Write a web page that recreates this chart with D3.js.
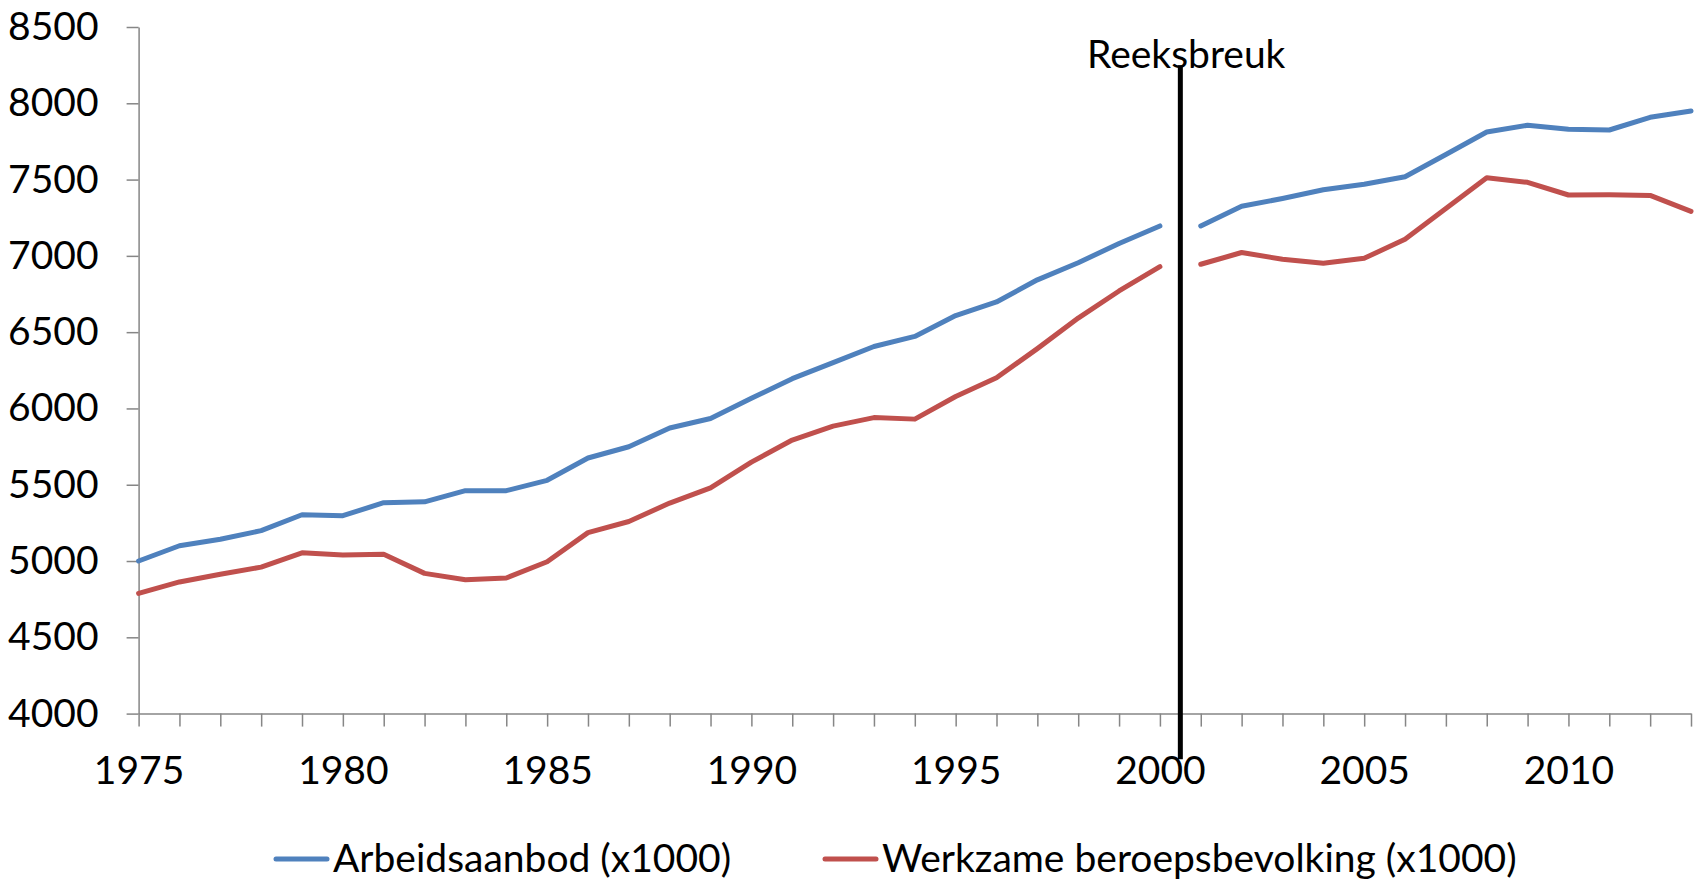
<!DOCTYPE html>
<html>
<head>
<meta charset="utf-8">
<script src="https://cdn.jsdelivr.net/npm/d3@7"></script>
<style>
  body { margin: 0; background: #fff; }
  svg text { font-family: Lato, "Open Sans", sans-serif; fill: #000; }
  .axis path, .axis line { stroke: #868686; stroke-width: 1.5; }
</style>
</head>
<body>
<div id="chart"></div>
<script>
const years = d3.range(1975, 2014);
const yTicks = [4000, 4500, 5000, 5500, 6000, 6500, 7000, 7500, 8000, 8500];
const xTickLabels = [1975, 1980, 1985, 1990, 1995, 2000, 2005, 2010];

const arbeidsaanbod = [5000, 5100, 5143, 5199, 5303, 5297, 5382, 5388, 5461, 5461,
  5529, 5675, 5749, 5872, 5934, 6067, 6195, 6300, 6406, 6472,
  6609, 6698, 6843, 6955, 7081, 7196,
  7196, 7325, 7376, 7433, 7469, 7519, 7664, 7812, 7856, 7830, 7825, 7908, 7950];
const werkzaam = [4788, 4863, 4913, 4960, 5054, 5039, 5045, 4919, 4877, 4889,
  4995, 5186, 5259, 5380, 5479, 5648, 5793, 5884, 5940, 5930,
  6078, 6201, 6392, 6592, 6770, 6929,
  6945, 7022, 6978, 6952, 6984, 7109, 7310, 7512, 7482, 7399, 7400, 7396, 7292];

const seriesNames = ["Arbeidsaanbod (x1000)", "Werkzame beroepsbevolking (x1000)"];
const colors = ["#4F81BD", "#C0504D"];
const breakYear = 2000.5;
const breakLabel = "Reeksbreuk";

const width = 1698, height = 880;
const fontSize = "39px";
const svg = d3.select("#chart").append("svg")
  .attr("width", width).attr("height", height);

const x = d3.scaleLinear().domain([1975, 2013]).range([138.6, 1691]);
const y = d3.scaleLinear().domain([4000, 8500]).range([713.6, 27]);

// y axis
svg.append("g")
  .attr("class", "axis")
  .attr("transform", `translate(${x(1975)},0)`)
  .call(d3.axisLeft(y).tickValues(yTicks).tickFormat(d3.format("d"))
    .tickSize(12).tickPadding(28).tickSizeOuter(0))
  .call(g => g.selectAll("text").style("font-size", fontSize).attr("fill", "#000"));

// x axis
svg.append("g")
  .attr("class", "axis")
  .attr("transform", `translate(0,${y(4000)})`)
  .call(d3.axisBottom(x).tickValues(years).tickSize(13).tickPadding(30).tickSizeOuter(0)
    .tickFormat(d => xTickLabels.includes(d) ? String(d) : ""))
  .call(g => g.selectAll("text").style("font-size", fontSize).attr("fill", "#000"));

// series lines, broken at 2000/2001
const line = d3.line()
  .x(d => x(d.year))
  .y(d => y(d.value));

[arbeidsaanbod, werkzaam].forEach((vals, s) => {
  const pts = years.map((yr, i) => ({ year: yr, value: vals[i] }));
  const parts = [pts.filter(p => p.year <= 2000), pts.filter(p => p.year >= 2001)];
  parts.forEach(part => {
    svg.append("path")
      .datum(part)
      .attr("d", line)
      .attr("fill", "none")
      .attr("stroke", colors[s])
      .attr("stroke-width", 5)
      .attr("stroke-linejoin", "round")
      .attr("stroke-linecap", "round");
  });
});

// reeksbreuk marker
svg.append("line")
  .attr("x1", x(breakYear)).attr("x2", x(breakYear))
  .attr("y1", y(8250)).attr("y2", y(3700))
  .attr("stroke", "#000")
  .attr("stroke-width", 5);

svg.append("text")
  .attr("x", 1087).attr("y", 68)
  .style("font-size", fontSize)
  .text(breakLabel);

// legend
const legendItems = [{ x: 276 }, { x: 825 }];
legendItems.forEach((item, i) => {
  svg.append("line")
    .attr("x1", item.x).attr("x2", item.x + 51)
    .attr("y1", 859).attr("y2", 859)
    .attr("stroke", colors[i])
    .attr("stroke-width", 5)
    .attr("stroke-linecap", "round");
  svg.append("text")
    .attr("x", item.x + 57).attr("y", 859)
    .attr("dy", "0.33em")
    .style("font-size", fontSize)
    .text(seriesNames[i]);
});
</script>
</body>
</html>
